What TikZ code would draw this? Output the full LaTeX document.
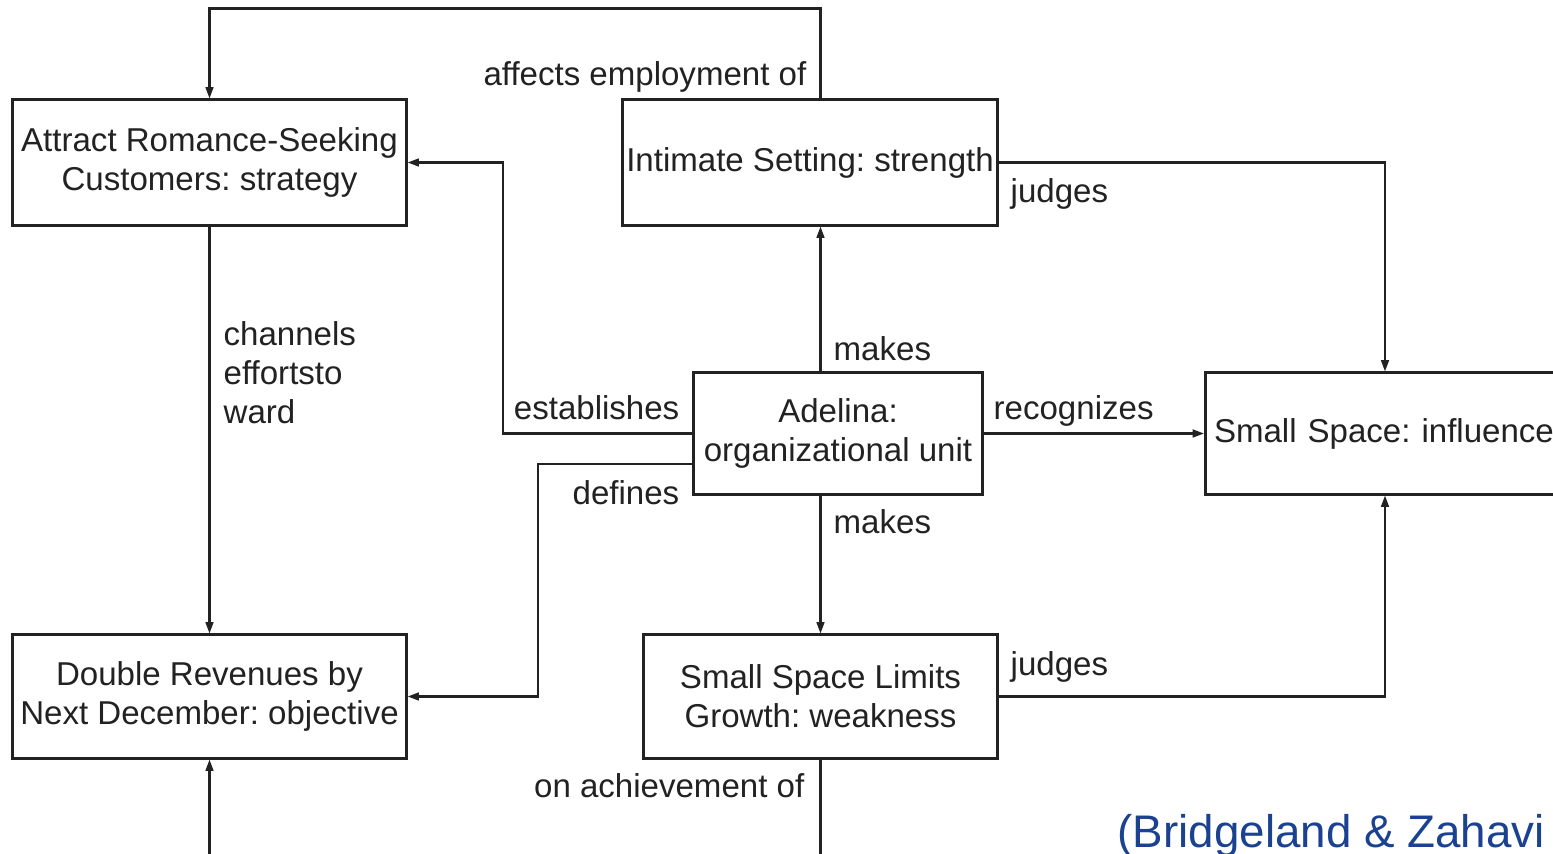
\documentclass[tikz,border=0pt]{standalone}
\usepackage{fontspec}
\setmainfont{Liberation Sans}
\usetikzlibrary{arrows.meta,calc}
\definecolor{ink}{HTML}{222222}
\definecolor{cite}{HTML}{1A4290}
\frenchspacing
\begin{document}
\begin{tikzpicture}[x=0.01cm,y=-0.01cm,
  every node/.style={text=ink},
  box/.style={draw=ink,line width=0.85pt,inner sep=0pt,align=center,font=\fontsize{9.4pt}{11.1pt}\selectfont},
  lbl/.style={inner sep=0pt,font=\fontsize{9.4pt}{11.1pt}\selectfont},
  conn/.style={draw=ink,line width=0.6pt,-{Triangle[length=3.2pt,width=2.2pt]}},
  plain/.style={draw=ink,line width=0.6pt}]
\useasboundingbox (0,0) rectangle (1553,854);
\clip (0,0) rectangle (1553,854);
\fill[white] (0,0) rectangle (1553,854);
% boxes
\node[box,minimum width=3.93cm,minimum height=1.25cm] (attract) at (209.5,162.5) {Attract Romance-Seeking\\Customers: strategy};
\node[box,minimum width=3.74cm,minimum height=1.25cm] (intimate) at (810,162.5) {Intimate Setting: strength};
\node[box,minimum width=2.88cm,minimum height=1.21cm] (adelina) at (838,433.5) {Adelina:\\organizational unit};
\node[box,anchor=west,minimum height=1.21cm,text width=3.8cm,inner xsep=0.085cm,align=left] (influencer) at (1204,433.5) {Small Space: influencer};
\node[box,minimum width=3.93cm,minimum height=1.23cm] (double) at (209.5,696.5) {Double Revenues by\\Next December: objective};
\node[box,minimum width=3.53cm,minimum height=1.23cm] (limits) at (820.5,696.5) {Small Space Limits\\Growth: weakness};
\coordinate (jx) at (1385,0);
\coordinate (bot1) at (820.5,870);
\coordinate (bot2) at (209.5,870);
% connectors
\draw[conn] (intimate.north -| limits.north) -- ++(0,-90) -| (attract.north);
\draw[conn] (attract.south) -- (double.north);
\draw[conn] (adelina.west) -- ++(-189,0) |- (attract.east);
\draw[conn] ([yshift=-0.305cm]adelina.west) -- ++(-154,0) |- (double.east);
\draw[conn] (adelina.north -| limits.north) -- (intimate.south -| limits.north);
\draw[conn] (adelina.south -| limits.north) -- (limits.north);
\draw[conn] (adelina.east) -- (influencer.west);
\draw[conn] (intimate.east) -| (influencer.north -| jx);
\draw[conn] (limits.east) -| (influencer.south -| jx);
\draw[plain] (limits.south) -- (bot1);
\draw[conn] (bot2) -- (double.south);
% labels
\node[lbl,anchor=east] at (807,77) {affects employment of};
\node[lbl,anchor=west,align=left] at (223,373) {channels\\effortsto\\ward};
\node[lbl,anchor=east] at (680,408) {establishes};
\node[lbl,anchor=east] at (680,493) {defines};
\node[lbl,anchor=west] at (833,349) {makes};
\node[lbl,anchor=west] at (833,522) {makes};
\node[lbl,anchor=west] at (993,411) {recognizes};
\node[lbl,anchor=west] at (1010,194) {judges};
\node[lbl,anchor=west] at (1010,667) {judges};
\node[lbl,anchor=east] at (805,786) {on achievement of};
\node[inner sep=0pt,anchor=base west,text=cite,font=\fontsize{13pt}{15pt}\selectfont] at (1117,847) {(Bridgeland \& Zahavi};
\end{tikzpicture}
\end{document}
